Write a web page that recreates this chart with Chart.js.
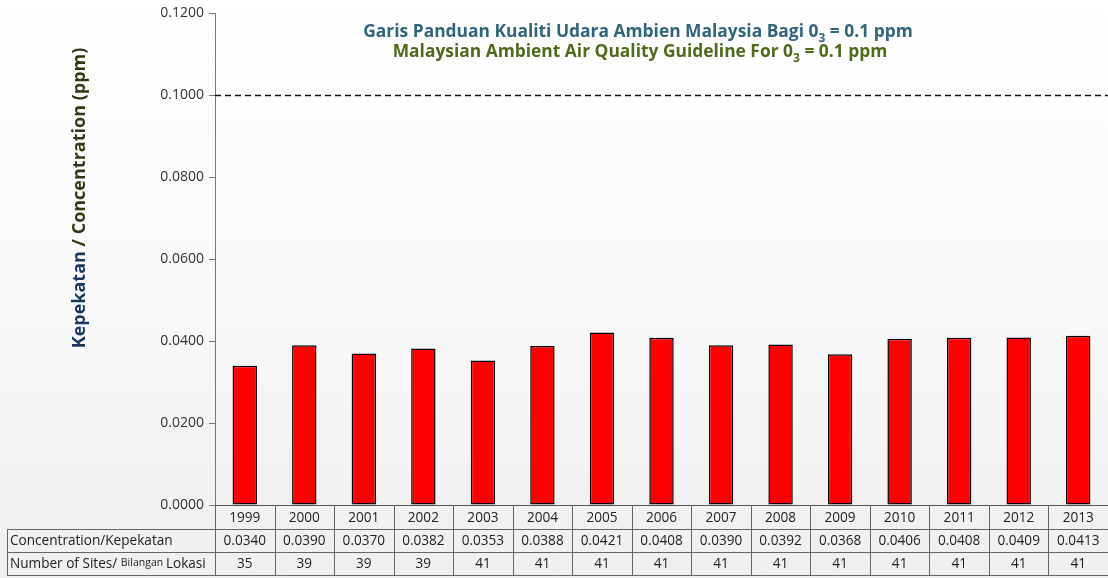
<!DOCTYPE html>
<html>
<head>
<meta charset="utf-8">
<script src="https://cdn.jsdelivr.net/npm/chart.js@4"></script>
<style>
  html, body { margin: 0; padding: 0; }
  body {
    width: 1108px; height: 578px; overflow: hidden;
    background: linear-gradient(to bottom, #ffffff 0%, #f9f9f9 50%, #efefef 100%);
  }
  #wrap { position: relative; width: 1108px; height: 578px; }
</style>
</head>
<body>
<div id="wrap"><canvas id="chart"></canvas></div>
<script>
// Ozone annual average, Malaysia 1999-2013
const years = ['1999', '2000', '2001', '2002', '2003', '2004', '2005', '2006',
  '2007', '2008', '2009', '2010', '2011', '2012', '2013'];
const concentration = [0.0340, 0.0390, 0.0370, 0.0382, 0.0353, 0.0388, 0.0421, 0.0408,
  0.0390, 0.0392, 0.0368, 0.0406, 0.0408, 0.0409, 0.0413];
const sites = [35, 39, 39, 39, 41, 41, 41, 41, 41, 41, 41, 41, 41, 41, 41];
const guideline = 0.1;

const FONT = "'Open Sans', 'Noto Sans', sans-serif";

// draw a run of text pieces [text, font, color, dy] starting at x
function drawRuns(ctx, runs, x, y) {
  runs.forEach(r => {
    ctx.font = r[1];
    ctx.fillStyle = r[2];
    ctx.fillText(r[0], x, y + (r[3] || 0));
    x += ctx.measureText(r[0]).width;
  });
}
function runsWidth(ctx, runs) {
  let w = 0;
  runs.forEach(r => { ctx.font = r[1]; w += ctx.measureText(r[0]).width; });
  return w;
}

const decorations = {
  id: 'decorations',
  afterDatasetsDraw(chart) {
    const { ctx, chartArea, scales } = chart;
    const y = scales.y, x = scales.x;

    // guideline dashed line
    ctx.save();
    const gy = Math.round(y.getPixelForValue(guideline)) + 0.5;
    ctx.setLineDash([6, 4]);
    ctx.strokeStyle = '#111';
    ctx.lineWidth = 1.3;
    ctx.beginPath();
    ctx.moveTo(chartArea.left, gy);
    ctx.lineTo(chartArea.right, gy);
    ctx.stroke();
    ctx.restore();

    // titles
    ctx.save();
    ctx.textBaseline = 'alphabetic';
    const bold = "bold 17.4px " + FONT;
    const sub = "bold 12px " + FONT;
    const blue = '#31657a', green = '#4f6a1a';
    const l1 = [['Garis Panduan Kualiti Udara Ambien Malaysia Bagi 0', bold, blue],
      ['3', sub, blue, 5], [' = 0.1 ppm', bold, blue]];
    const l2 = [['Malaysian Ambient Air Quality Guideline For 0', bold, green],
      ['3', sub, green, 5], [' = 0.1 ppm', bold, green]];
    drawRuns(ctx, l1, 638 - runsWidth(ctx, l1) / 2, 37);
    drawRuns(ctx, l2, 640 - runsWidth(ctx, l2) / 2, 57);
    ctx.restore();

    // y axis title, two colours
    ctx.save();
    ctx.translate(85, 198);
    ctx.rotate(-Math.PI / 2);
    const yt = [['Kepekatan ', "bold 18px " + FONT, '#17375e'],
      ['/ Concentration (ppm)', "bold 18px " + FONT, '#2e3b12']];
    drawRuns(ctx, yt, -runsWidth(ctx, yt) / 2, 0);
    ctx.restore();

    // data table
    ctx.save();
    const half = (x.getPixelForValue(1) - x.getPixelForValue(0)) / 2;
    const top = chartArea.bottom;
    const r1 = top + 24, r2 = r1 + 23, r3 = r2 + 23;
    const tableLeft = 7;
    ctx.strokeStyle = '#666';
    ctx.lineWidth = 1;
    ctx.beginPath();
    [r1, r2, r3].forEach(ry => {
      ctx.moveTo(tableLeft, Math.round(ry) + 0.5);
      ctx.lineTo(chartArea.right, Math.round(ry) + 0.5);
    });
    ctx.moveTo(tableLeft + 0.5, r1);
    ctx.lineTo(tableLeft + 0.5, r3);
    for (let i = 0; i <= years.length; i++) {
      const bx = Math.round(x.getPixelForValue(i) - half) + 0.5;
      ctx.moveTo(bx, top);
      ctx.lineTo(bx, r3);
    }
    ctx.stroke();

    const cellFont = "13.6px " + FONT;
    ctx.fillStyle = '#222';
    ctx.textAlign = 'center';
    ctx.textBaseline = 'middle';
    ctx.font = cellFont;
    years.forEach((yr, i) => {
      const cx = x.getPixelForValue(i);
      ctx.fillText(yr, cx, (top + r1) / 2 + 1);
      ctx.fillText(concentration[i].toFixed(4), cx, (r1 + r2) / 2 + 1);
      ctx.fillText(String(sites[i]), cx, (r2 + r3) / 2 + 1);
    });
    ctx.textAlign = 'left';
    ctx.fillText('Concentration/Kepekatan', 10, (r1 + r2) / 2 + 1);
    drawRuns(ctx, [['Number of Sites/ ', cellFont, '#222'],
      ['Bilangan ', "10.5px " + FONT, '#222', -1],
      ['Lokasi', cellFont, '#222']], 10, (r2 + r3) / 2 + 1);
    ctx.restore();
  }
};

new Chart(document.getElementById('chart'), {
  type: 'bar',
  data: {
    labels: years,
    datasets: [{
      label: 'Concentration/Kepekatan',
      data: concentration,
      backgroundColor: '#ff0000',
      borderColor: '#000',
      borderWidth: 1.5,
      borderSkipped: false,
      categoryPercentage: 1,
      barPercentage: 0.41
    }]
  },
  options: {
    responsive: true,
    maintainAspectRatio: false,
    animation: false,
    layout: { padding: { top: 12, bottom: 73, left: 0, right: 0 } },
    plugins: {
      legend: { display: false },
      tooltip: { enabled: false }
    },
    scales: {
      x: {
        afterFit: s => { s.height = 0; s.paddingRight = 0; s.paddingLeft = 0; },
        grid: { display: false },
        border: { color: '#555' },
        ticks: { display: false }
      },
      y: {
        min: 0,
        max: 0.12,
        afterFit: s => { s.width = 215; },
        grid: { drawOnChartArea: false, tickLength: 6, color: '#777' },
        border: { color: '#777' },
        ticks: {
          stepSize: 0.02,
          padding: 5,
          color: '#333',
          font: { family: FONT, size: 14 },
          callback: v => Number(v).toFixed(4)
        }
      }
    }
  },
  plugins: [decorations]
});
</script>
</body>
</html>
